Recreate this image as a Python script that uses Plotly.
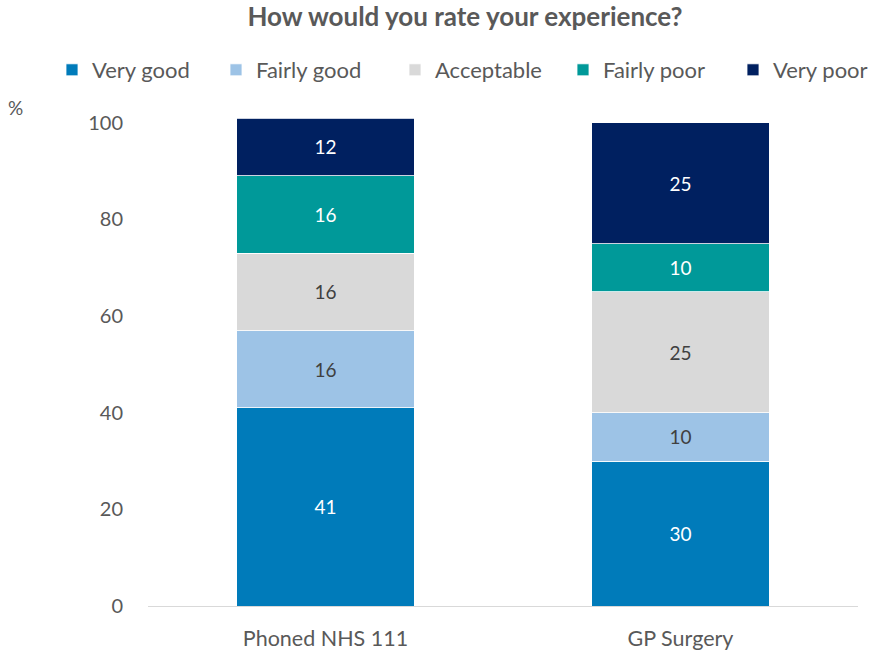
import plotly.graph_objects as go

categories = ["Phoned NHS 111", "GP Surgery"]
series_names = ["Very good", "Fairly good", "Acceptable", "Fairly poor", "Very poor"]
very_good = [41, 30]
fairly_good = [16, 10]
acceptable = [16, 25]
fairly_poor = [16, 10]
very_poor = [12, 25]
tick_vals = [0, 20, 40, 60, 80, 100]

values = [very_good, fairly_good, acceptable, fairly_poor, very_poor]
colors = ["#007BBA", "#9DC3E6", "#D9D9D9", "#009999", "#002060"]
text_colors = ["#FFFFFF", "#404040", "#404040", "#FFFFFF", "#FFFFFF"]

FONT = "Lato"
GREY = "#595959"
W, H = 882, 655
legend_ids = ["legend", "legend2", "legend3", "legend4", "legend5"]
legend_sym_left = [69, 233, 412, 580, 750]  # px of legend swatches

fig = go.Figure()
for name, vals, c, tc, lg in zip(series_names, values, colors, text_colors, legend_ids):
    fig.add_trace(go.Bar(
        name=name, x=categories, y=vals,
        marker=dict(color=c, line=dict(color="#FFFFFF", width=0.8)),
        text=[str(v) for v in vals], textposition="inside",
        insidetextanchor="middle",
        textfont=dict(color=tc, size=19, family=FONT),
        hoverinfo="skip", legend=lg,
    ))

legend_layout = {}
for lg, sx in zip(legend_ids, legend_sym_left):
    legend_layout[lg] = dict(
        orientation="h", x=(sx - 17) / W, xanchor="left", xref="container",
        y=1 - 70 / H, yanchor="middle", yref="container",
        font=dict(size=22, color=GREY, family=FONT),
        itemwidth=30, bgcolor="rgba(0,0,0,0)",
    )

fig.update_layout(
    barmode="stack",
    bargap=0.5,
    width=W, height=H,
    margin=dict(l=148, r=24, t=118, b=49, autoexpand=False),
    paper_bgcolor="white", plot_bgcolor="white",
    font=dict(family=FONT, color=GREY, size=19),
    title=dict(text="<b>How would you rate your experience?</b>",
               x=465 / W, xanchor="center", xref="container",
               y=1 - 17 / H, yanchor="middle", yref="container",
               font=dict(size=26, color=GREY, family=FONT)),
    showlegend=True,
    **legend_layout,
)
fig.update_yaxes(range=[0, 101], tickvals=tick_vals, showgrid=False,
                 zeroline=False, showline=False, automargin=False,
                 tickfont=dict(size=20, color=GREY), ticklabelstandoff=24)
fig.update_xaxes(showline=True, linecolor="#D9D9D9", linewidth=1, automargin=False,
                 tickfont=dict(size=21.5, color=GREY), ticks="", ticklabelstandoff=13)
fig.add_annotation(text="%", xref="paper", yref="paper",
                   x=(15 - 148) / 710, y=(606 - 107.5) / 488,
                   xanchor="center", yanchor="middle",
                   showarrow=False, font=dict(size=19, color=GREY))
fig.write_html("out.html",
               config={"displayModeBar": False},
               post_script="document.body.style.margin='0';document.body.style.overflow='hidden';")
